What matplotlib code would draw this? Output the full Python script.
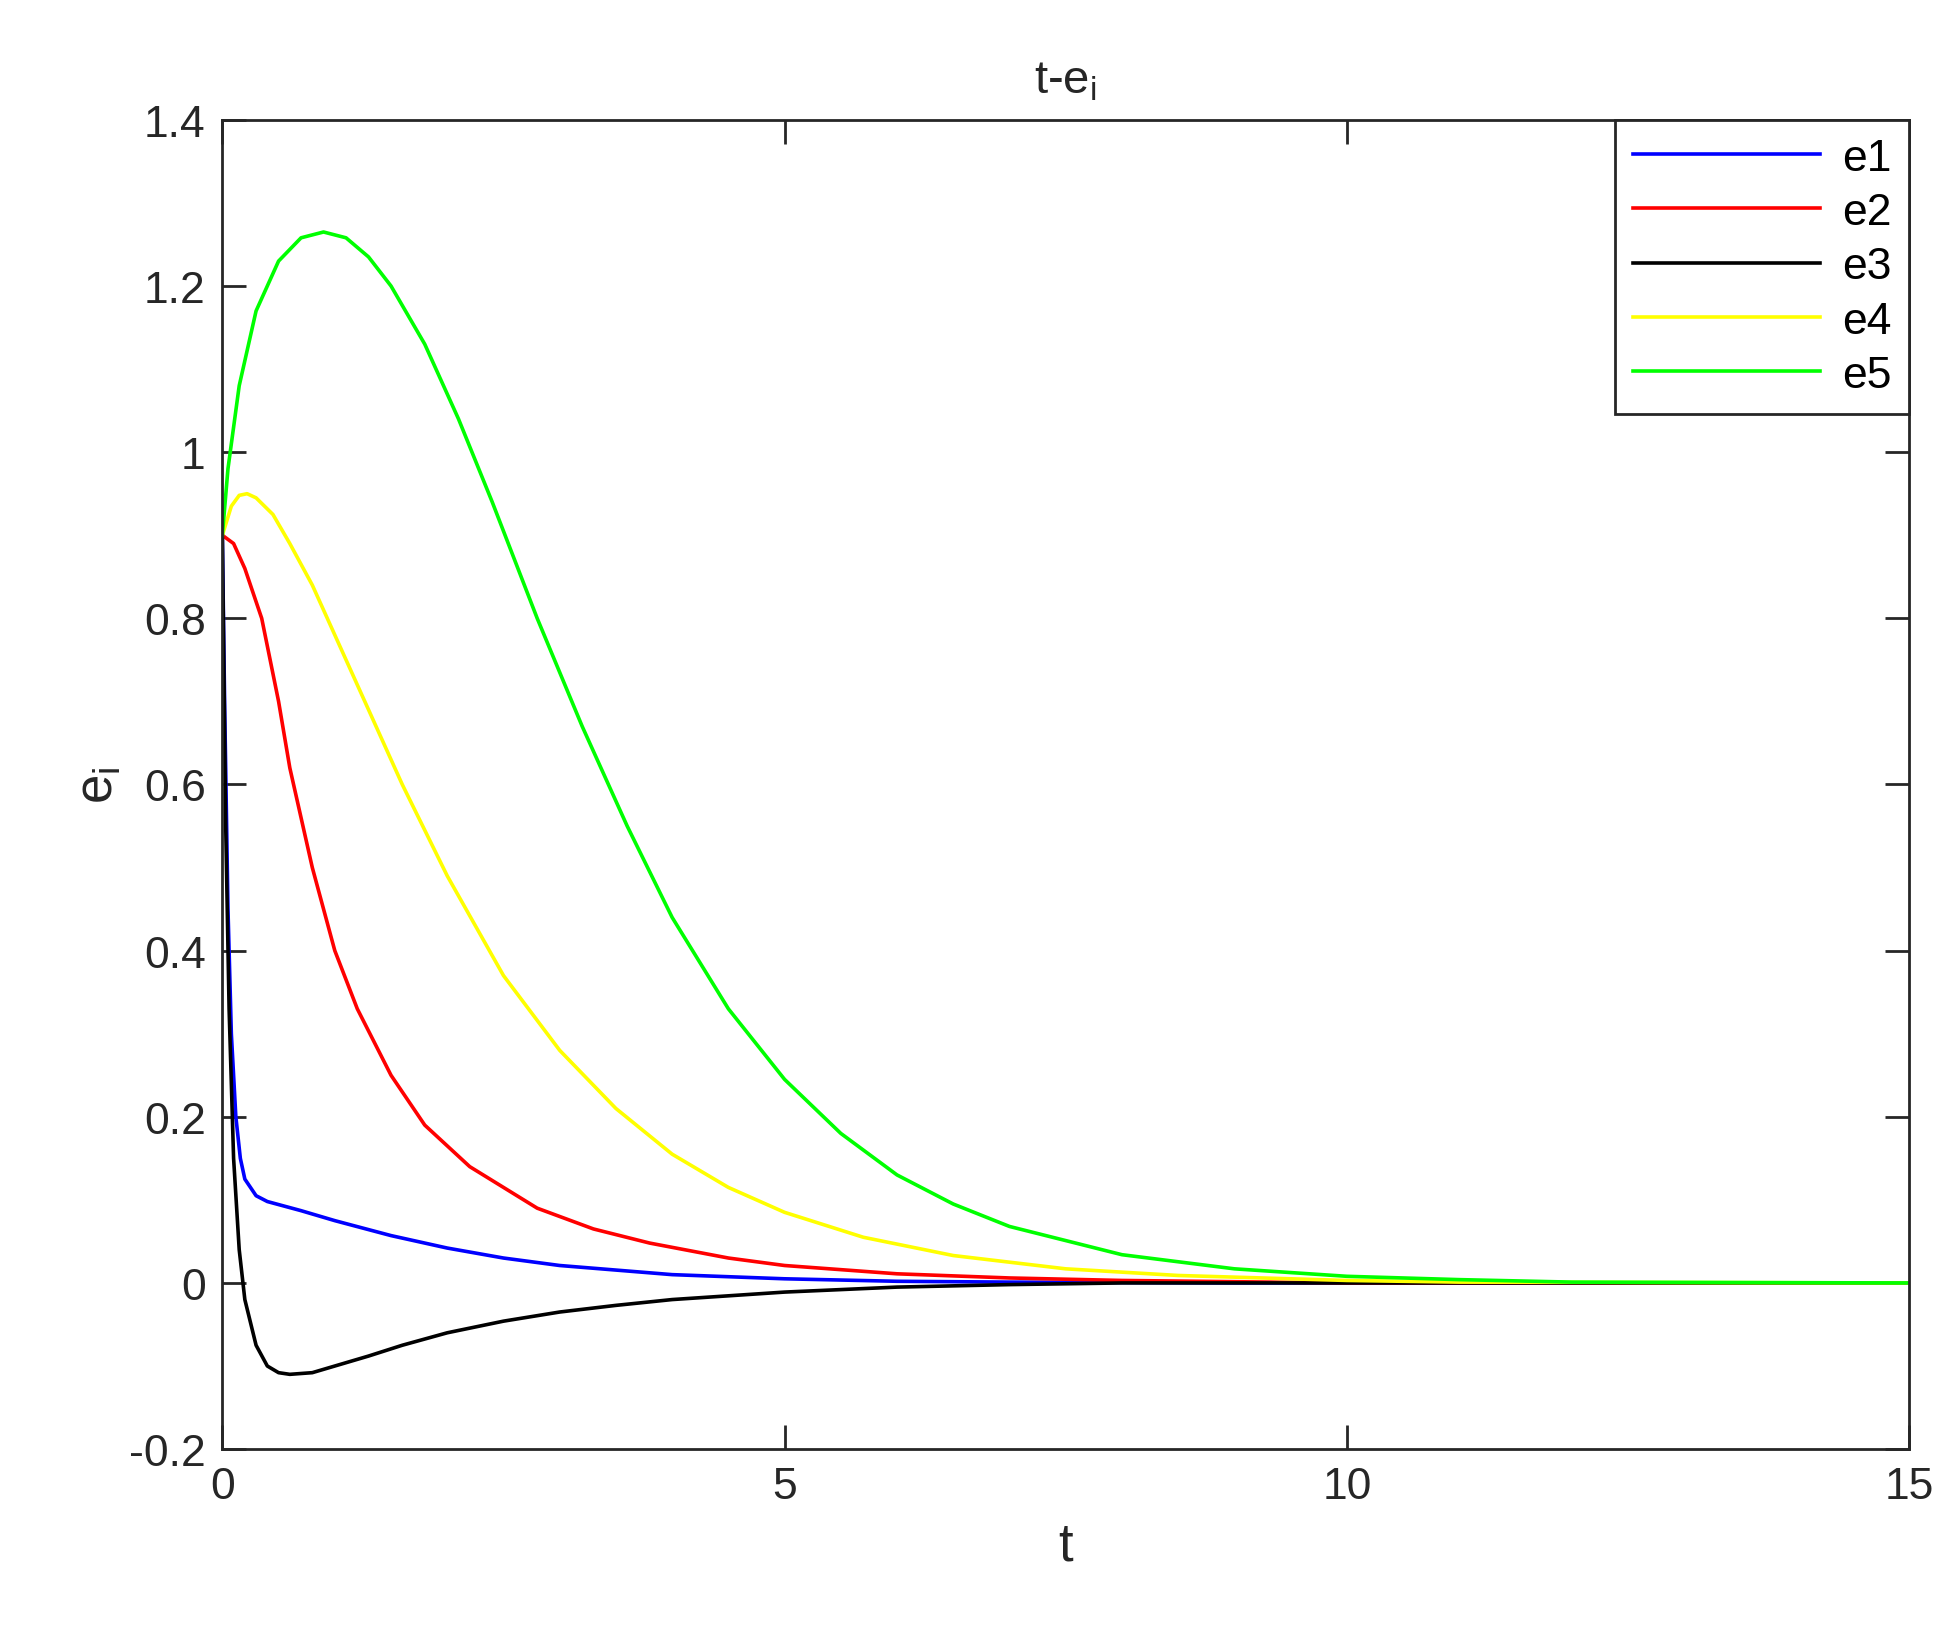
import matplotlib
matplotlib.use("Agg")
import matplotlib.pyplot as plt

plt.rcParams['font.family'] = ['Liberation Sans', 'DejaVu Sans']

t1 = [0, 0.02, 0.05, 0.08, 0.12, 0.16, 0.2, 0.3, 0.4, 0.7, 1.0, 1.5, 2.0, 2.5, 3.0, 4.0, 5.0, 6.0, 7.0, 9.0, 15]
e1 = [0.9, 0.7, 0.45, 0.3, 0.2, 0.15, 0.125, 0.105, 0.098, 0.087, 0.075, 0.057, 0.042, 0.03, 0.021, 0.01, 0.005, 0.002, 0.001, 0.0, 0.0]

t2 = [0, 0.1, 0.2, 0.35, 0.5, 0.6, 0.8, 1.0, 1.2, 1.5, 1.8, 2.2, 2.8, 3.3, 3.8, 4.5, 5.0, 6.0, 7.0, 8.0, 10.0, 15]
e2 = [0.9, 0.89, 0.86, 0.8, 0.7, 0.62, 0.5, 0.4, 0.33, 0.25, 0.19, 0.14, 0.09, 0.065, 0.048, 0.03, 0.021, 0.011, 0.006, 0.003, 0.0, 0.0]

t3 = [0, 0.03, 0.06, 0.1, 0.15, 0.2, 0.3, 0.4, 0.5, 0.6, 0.8, 1.0, 1.3, 1.6, 2.0, 2.5, 3.0, 3.5, 4.0, 5.0, 6.0, 7.0, 8.0, 15]
e3 = [0.9, 0.55, 0.33, 0.15, 0.04, -0.02, -0.075, -0.1, -0.108, -0.11, -0.108, -0.1, -0.088, -0.075, -0.06, -0.046, -0.035, -0.027, -0.02, -0.011, -0.005, -0.002, 0.0, 0.0]

t4 = [0, 0.08, 0.15, 0.22, 0.3, 0.45, 0.6, 0.8, 1.0, 1.3, 1.6, 2.0, 2.5, 3.0, 3.5, 4.0, 4.5, 5.0, 5.7, 6.5, 7.5, 8.5, 10.0, 11.0, 15]
e4 = [0.9, 0.935, 0.948, 0.95, 0.945, 0.925, 0.89, 0.84, 0.78, 0.69, 0.6, 0.49, 0.37, 0.28, 0.21, 0.155, 0.115, 0.085, 0.055, 0.033, 0.017, 0.009, 0.003, 0.001, 0.0]

t5 = [0, 0.05, 0.15, 0.3, 0.5, 0.7, 0.9, 1.1, 1.3, 1.5, 1.8, 2.1, 2.4, 2.8, 3.2, 3.6, 4.0, 4.5, 5.0, 5.5, 6.0, 6.5, 7.0, 8.0, 9.0, 10.0, 11.0, 12.0, 15]
e5 = [0.9, 0.98, 1.08, 1.17, 1.23, 1.258, 1.265, 1.258, 1.235, 1.2, 1.13, 1.04, 0.94, 0.8, 0.67, 0.55, 0.44, 0.33, 0.245, 0.18, 0.13, 0.095, 0.068, 0.034, 0.017, 0.008, 0.004, 0.001, 0.0]

fig = plt.figure(figsize=(19.59, 16.33), dpi=100)
ax = fig.add_axes([0.1135, 0.112, 0.861, 0.814])
lw = 2.6
ax.plot(t1, e1, color='#0000ff', lw=lw, label='e1')
ax.plot(t2, e2, color='#ff0000', lw=lw, label='e2')
ax.plot(t3, e3, color='#000000', lw=lw, label='e3')
ax.plot(t4, e4, color='#ffff00', lw=lw, label='e4')
ax.plot(t5, e5, color='#00ff00', lw=lw, label='e5')
ax.set_xlim(0, 15)
ax.set_ylim(-0.2, 1.4)
ax.set_xticks([0, 5, 10, 15])
ax.set_yticks([-0.2, 0, 0.2, 0.4, 0.6, 0.8, 1, 1.2, 1.4])
ax.set_yticklabels(['-0.2', '0', '0.2', '0.4', '0.6', '0.8', '1', '1.2', '1.4'])
ax.tick_params(direction='in', length=17, width=2, labelsize=32, colors='#262626',
               top=True, right=True, pad=12)
for s in ax.spines.values():
    s.set_linewidth(2)
    s.set_color('#262626')
ax.set_xlabel('t', fontsize=38, color='#262626', labelpad=10)
ax.set_ylabel('e$_\\mathregular{i}$', fontsize=38, color='#262626')
ax.set_title('t-e$_\\mathregular{i}$', fontsize=34, color='#262626', pad=20)
leg = ax.legend(loc='upper right', fontsize=32, fancybox=False, framealpha=1,
                edgecolor='#262626', borderaxespad=0, handlelength=4.2,
                labelspacing=0.3, handletextpad=0.5)
leg.get_frame().set_linewidth(2)
fig.savefig('out.png', dpi=100)
